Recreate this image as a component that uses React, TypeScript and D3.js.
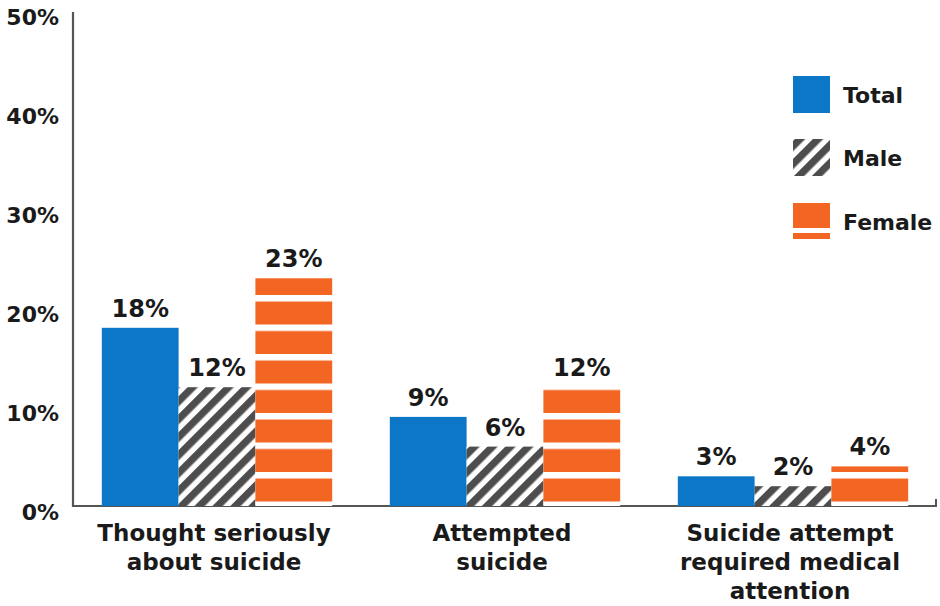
import React from "react";
import * as d3 from "d3";

const categories = [
  ["Thought seriously", "about suicide"],
  ["Attempted", "suicide"],
  ["Suicide attempt", "required medical", "attention"],
];
const seriesNames = ["Total", "Male", "Female"];
const totalValues = [18, 9, 3];
const maleValues = [12, 6, 2];
const femaleValues = [23, 12, 4];
const yTicks = [0, 10, 20, 30, 40, 50];

const W = 940;
const H = 606;
const BLUE = "#0b77c6";
const ORANGE = "#f26522";
const GRAY = "#4d4d4d";
const TEXT = "#1a1a1a";
const FONT = "'DejaVu Sans', sans-serif";

export default function App() {
  const x0 = d3
    .scaleBand<number>()
    .domain(categories.map((_, i) => i))
    .range([73, 937])
    .paddingInner(0.2)
    .paddingOuter(0.1);
  const x1 = d3
    .scaleBand<string>()
    .domain(seriesNames)
    .range([0, x0.bandwidth()]);
  const y = d3.scaleLinear().domain([0, 50]).range([506, 11]);

  const series = [
    { name: "Total", values: totalValues, fill: BLUE },
    { name: "Male", values: maleValues, fill: "url(#hatch)" },
    { name: "Female", values: femaleValues, fill: "url(#stripes)" },
  ];

  const legendY = [76, 139, 203];

  return (
    <svg
      width={W}
      height={H}
      style={{ position: "absolute", left: 0, top: 0, background: "#fff" }}
      fontFamily={FONT}
    >
      <defs>
        <pattern
          id="hatch"
          patternUnits="userSpaceOnUse"
          width={12.7}
          height={12.7}
          patternTransform="rotate(45)"
        >
          <rect width={12.7} height={12.7} fill="#fff" />
          <rect width={7.3} height={12.7} fill={GRAY} />
        </pattern>
        <pattern
          id="stripes"
          patternUnits="userSpaceOnUse"
          x={0}
          y={y(0) - 4.5}
          width={20}
          height={29.5}
        >
          <rect width={20} height={29.5} fill={ORANGE} />
          <rect width={20} height={6.5} fill="#fff" />
        </pattern>
      </defs>

      {/* axes */}
      <line x1={73} x2={937} y1={y(0)} y2={y(0)} stroke="#555" strokeWidth={2} />
      <line x1={936} x2={936} y1={y(0)} y2={y(0) - 7} stroke="#555" strokeWidth={2} />

      {/* bars */}
      {series.map((s) =>
        s.values.map((v, i) => (
          <rect
            key={s.name + i}
            x={(x0(i) ?? 0) + (x1(s.name) ?? 0)}
            y={y(v)}
            width={x1.bandwidth()}
            height={y(0) - y(v)}
            fill={s.fill}
          />
        ))
      )}

      <line x1={73} x2={73} y1={y(50) + 1} y2={y(0) + 1} stroke="#555" strokeWidth={2.2} />

      {/* value labels */}
      {series.map((s) =>
        s.values.map((v, i) => (
          <text
            key={"l" + s.name + i}
            x={(x0(i) ?? 0) + (x1(s.name) ?? 0) + x1.bandwidth() / 2}
            y={y(v) - 11}
            textAnchor="middle"
            fontSize={24}
            fontWeight="bold"
            fill={TEXT}
          >
            {v}%
          </text>
        ))
      )}

      {/* y tick labels */}
      {yTicks.map((t) => (
        <text
          key={"t" + t}
          x={59}
          y={y(t) + 6}
          dy="0.35em"
          textAnchor="end"
          fontSize={22}
          fontWeight="bold"
          fill={TEXT}
        >
          {t}%
        </text>
      ))}

      {/* category labels */}
      {categories.map((lines, i) => (
        <text
          key={"c" + i}
          x={(x0(i) ?? 0) + x0.bandwidth() / 2 - 3}
          y={541}
          textAnchor="middle"
          fontSize={23}
          fontWeight="bold"
          fill={TEXT}
        >
          {lines.map((ln, j) => (
            <tspan key={j} x={(x0(i) ?? 0) + x0.bandwidth() / 2 - 3} dy={j === 0 ? 0 : 29}>
              {ln}
            </tspan>
          ))}
        </text>
      ))}

      {/* legend */}
      <rect x={793} y={legendY[0]} width={37} height={37} fill={BLUE} />
      <rect x={793} y={legendY[1]} width={37} height={37} fill="url(#hatch)" />
      <rect x={793} y={legendY[2]} width={37} height={25} fill={ORANGE} />
      <rect x={793} y={legendY[2] + 30} width={37} height={6} fill={ORANGE} />
      {seriesNames.map((n, k) => (
        <text
          key={"lg" + n}
          x={843}
          y={legendY[k] + 19}
          dy="0.35em"
          fontSize={22}
          fontWeight="bold"
          fill={TEXT}
        >
          {n}
        </text>
      ))}
    </svg>
  );
}
